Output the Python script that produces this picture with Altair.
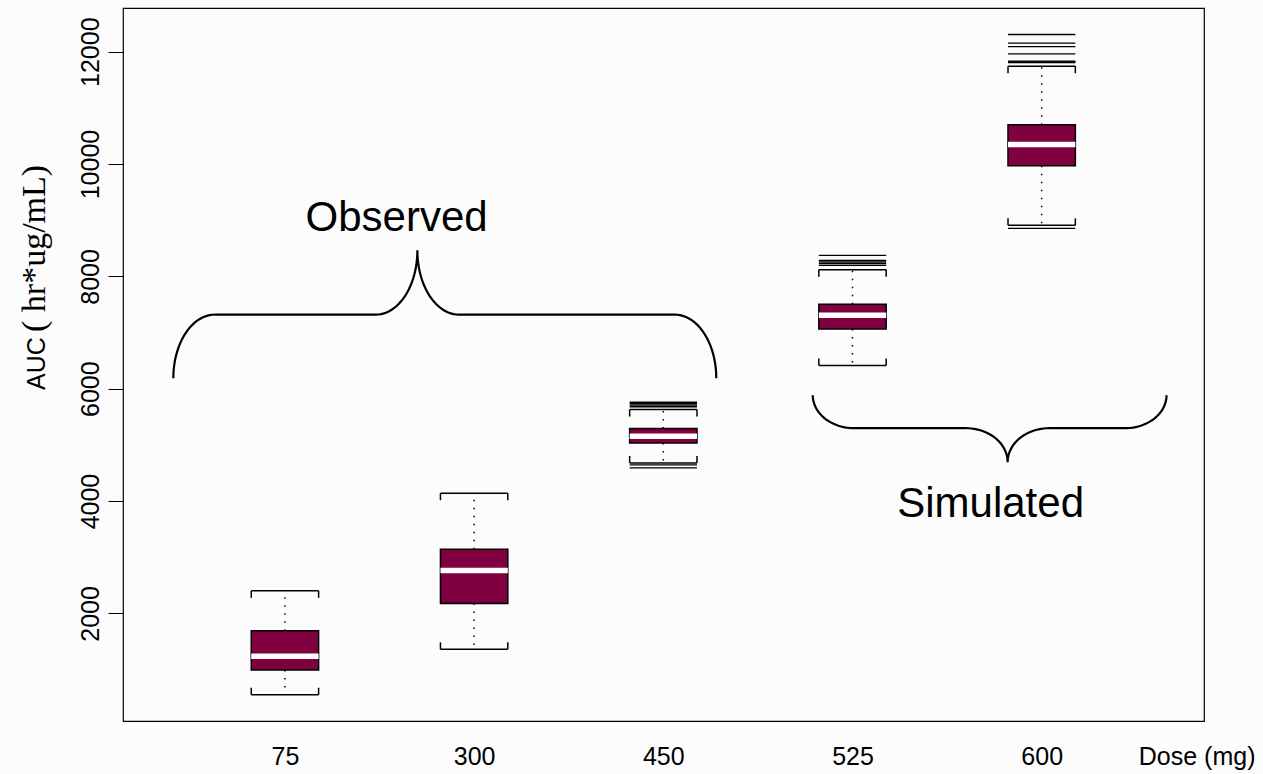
import altair as alt
import numpy as np
import pandas as pd

# ---- data ----
doses = ["75", "300", "450", "525", "600"]
lower_whisker = [552, 1360, 4679, 6412, 8908]
q1 = [991, 2178, 5035, 7063, 9970]
median = [1235, 2765, 5154, 7307, 10349]
q3 = [1691, 3144, 5291, 7503, 10699]
upper_whisker = [2402, 4140, 5629, 8120, 11742]

outlier_dose = ["450"] * 6 + ["525"] * 5 + ["600"] * 8
outlier_value = [5759, 5732, 5706, 5679, 4644, 4590,
                 8375, 8286, 8256, 8227, 8197,
                 12306, 12151, 12092, 11962, 11831, 11820, 11808, 8855]

y_ticks = [2000, 4000, 6000, 8000, 10000, 12000]

# annotation braces (x in box-position units, y in AUC units)
group_labels = ["Observed", "Simulated"]
brace_x_start = [0.41, 3.79]
brace_x_peak = [1.70, 4.82]
brace_x_end = [3.28, 5.66]
brace_y_end = [6186, 5884]
brace_y_arm = [7319, 5297]
brace_y_tip = [8463, 4692]
label_x = [1.59, 4.73]
label_y = [8801, 3713]

# ---- tables ----
pos = list(range(1, len(doses) + 1))
boxes = pd.DataFrame({"pos": pos, "dose": doses, "lower": lower_whisker, "q1": q1,
                      "median": median, "q3": q3, "upper": upper_whisker})
dose_pos = dict(zip(doses, pos))
outliers = pd.DataFrame({"pos": [dose_pos[d] for d in outlier_dose], "value": outlier_value})

HW = 0.178
RX = 0.22
rows = []
tt = np.linspace(0, np.pi / 2, 25)
for b in range(len(group_labels)):
    xs, xp, xe = brace_x_start[b], brace_x_peak[b], brace_x_end[b]
    ye, ya, yt = brace_y_end[b], brace_y_arm[b], brace_y_tip[b]
    pts = []
    pts += [(xs + RX * (1 - np.cos(t)), ye + (ya - ye) * np.sin(t)) for t in tt]
    pts += [(xp - RX + RX * np.sin(t), yt + (ya - yt) * np.cos(t)) for t in tt]
    pts += [(xp + RX * (1 - np.cos(t)), yt + (ya - yt) * np.sin(t)) for t in tt]
    pts += [(xe - RX + RX * np.sin(t), ya + (ye - ya) * (1 - np.cos(t))) for t in tt]
    for i, (x, y) in enumerate(pts):
        rows.append({"brace": group_labels[b], "i": i, "x": float(x), "y": float(y)})
braces = pd.DataFrame(rows)
labels = pd.DataFrame({"label": group_labels, "x": label_x, "y": label_y})

# ---- scales / axes ----
SANS = "Liberation Sans"
xscale = alt.Scale(domain=[0.144, 5.858], nice=False, zero=False)
yscale = alt.Scale(domain=[84, 12778], nice=False, zero=False)
label_expr = "[" + ",".join("'%s'" % d for d in doses) + "][datum.value - 1]"
xaxis = alt.Axis(values=pos, labelExpr=label_expr, ticks=False, tickSize=0, domain=False,
                 grid=False, labelFont=SANS, labelFontSize=25, labelColor="black",
                 labelPadding=43, labelBaseline="alphabetic", labelFlush=False,
                 labelOverlap=False, title="Dose (mg)", titleFont=SANS, titleFontSize=25,
                 titleFontWeight="normal", titleColor="black", titleX=1132, titleY=43,
                 titleAlign="right", titleBaseline="alphabetic")
yaxis = alt.Axis(values=y_ticks, format="d", tickSize=15, tickColor="black", tickWidth=1,
                 domain=False, grid=False, labelAngle=270, labelAlign="center",
                 labelBaseline="alphabetic", labelPadding=10, labelFont=SANS,
                 labelFontSize=25, labelColor="black", title=None)


def X(f):
    return alt.X(f, type="quantitative", scale=xscale, axis=xaxis)


def Y(f):
    return alt.Y(f, type="quantitative", scale=yscale, axis=yaxis)


base = alt.Chart(boxes).transform_calculate(
    xl="datum.pos - %f" % HW, xr="datum.pos + %f" % HW)

out_layer = alt.Chart(outliers).transform_calculate(
    xl="datum.pos - %f" % HW, xr="datum.pos + %f" % HW
).mark_rule(color="black", strokeWidth=1.3).encode(x=X("xl"), x2="xr:Q", y=Y("value"))

whisk_up = base.mark_rule(color="black", strokeWidth=1.5, strokeDash=[1.5, 6.5]).encode(
    x=X("pos"), y=Y("q3"), y2="upper:Q")
whisk_lo = base.mark_rule(color="black", strokeWidth=1.5, strokeDash=[1.5, 6.5]).encode(
    x=X("pos"), y=Y("q1"), y2="lower:Q")
cap_up = base.mark_rule(color="black", strokeWidth=1.5).encode(x=X("xl"), x2="xr:Q", y=Y("upper"))
cap_lo = base.mark_rule(color="black", strokeWidth=1.5).encode(x=X("xl"), x2="xr:Q", y=Y("lower"))
staple_up = base.transform_fold(["xl", "xr"], as_=["side", "sx"]).mark_rule(
    color="black", strokeWidth=1.5, y2Offset=7).encode(x=X("sx"), y=Y("upper"), y2="upper:Q")
staple_lo = base.transform_fold(["xl", "xr"], as_=["side", "sx"]).mark_rule(
    color="black", strokeWidth=1.5, y2Offset=-7).encode(x=X("sx"), y=Y("lower"), y2="lower:Q")
box = base.mark_rect(fill="#800040", stroke="black", strokeWidth=1.5).encode(
    x=X("xl"), x2="xr:Q", y=Y("q1"), y2="q3:Q")
med = base.mark_rule(color="white", strokeWidth=5.5).encode(x=X("xl"), x2="xr:Q", y=Y("median"))

brace_layer = alt.Chart(braces).mark_line(color="black", strokeWidth=2.2).encode(
    x=X("x"), y=Y("y"), detail="brace:N", order="i:Q")
text_layer = alt.Chart(labels).mark_text(font=SANS, fontSize=42, align="center",
                                         baseline="alphabetic", color="black").encode(
    x=X("x"), y=Y("y"), text="label:N")

ytitle_data = alt.Data(values=[{"k": 1}])
yt1 = alt.Chart(ytitle_data).mark_text(text="AUC", font=SANS, fontSize=25, angle=270,
                                        align="left", baseline="alphabetic", color="black").encode(
    x=alt.value(-78), y=alt.value(382))
yt2 = alt.Chart(ytitle_data).mark_text(text="( hr*ug/mL)", font="Liberation Serif", fontSize=34,
                                        angle=270, align="left", baseline="alphabetic",
                                        color="black").encode(
    x=alt.value(-78), y=alt.value(324))

chart = alt.layer(out_layer, whisk_up, whisk_lo, cap_up, cap_lo, staple_up, staple_lo,
                  box, med, brace_layer, text_layer, yt1, yt2).properties(
    width=1081, height=713,
    autosize=alt.AutoSizeParams(type="none"),
    padding={"left": 123, "top": 8, "right": 59, "bottom": 53},
    background="#fcfcfc",
).configure_view(stroke="black", strokeWidth=1.2)

chart.save("out.html", embed_options={"renderer": "svg", "actions": False})
